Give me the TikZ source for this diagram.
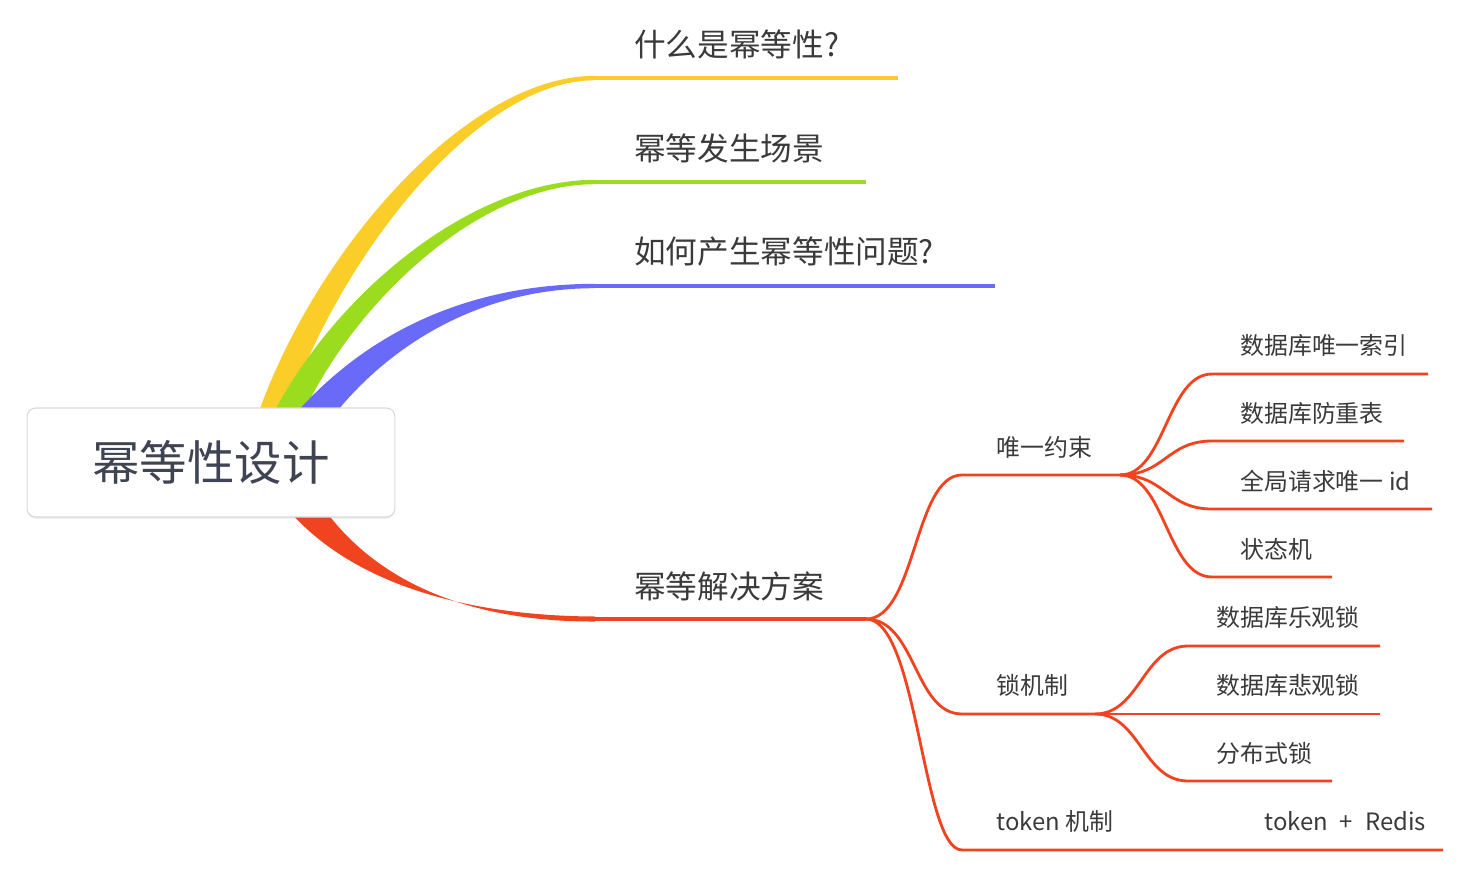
\documentclass[tikz,border=0pt]{standalone}
\usepackage{fontspec}
\setmainfont{Noto Sans CJK SC}
\usetikzlibrary{calc,shadows}
\definecolor{ink}{HTML}{3A3A3A}
\definecolor{rootink}{HTML}{3F4452}
\definecolor{cyellow}{HTML}{FACD28}
\definecolor{cgreen}{HTML}{9CDC1E}
\definecolor{cblue}{HTML}{6A6AF8}
\definecolor{cred}{HTML}{F0431F}
\tikzset{
	rootbox/.style={draw=black!15,fill=white,rounded corners=5pt,line width=0.6pt,
		minimum width=7.36cm,minimum height=2.18cm,text=rootink,
		font=\fontsize{27}{30}\selectfont,
		drop shadow={opacity=0.12,shadow xshift=0pt,shadow yshift=-1.2pt}},
	topic/.style={anchor=west,inner sep=0pt,text=ink,font=\fontsize{18}{20}\selectfont},
	sub/.style={anchor=west,inner sep=0pt,text=ink,font=\fontsize{13.6}{16}\selectfont},
	twig/.style={draw=cred,line width=1.6pt},
}

\begin{document}
\begin{tikzpicture}[x=0.02cm,y=-0.02cm]
	\useasboundingbox (0,0) rectangle (1464,876);

	% ends of the four main branches
	\coordinate (what) at (595,78);   \coordinate (what-e) at (898,78);
	\coordinate (scene) at (595,182); \coordinate (scene-e) at (866,182);
	\coordinate (how) at (595,286);   \coordinate (how-e) at (995,286);
	\coordinate (sol) at (595,619);   \coordinate (sol-e) at (866,619);

	% tapered branches, hidden under the root box at their start
	\fill[cyellow] (256,420) .. controls (312,255) and (465,76) .. ($(what)+(0,-2.2)$)
		-- ($(what)+(0,2.2)$) .. controls (475,80) and (336,262) .. (284,420) -- cycle;
	\fill[cgreen] (270,420) .. controls (332,296) and (470,180) .. ($(scene)+(0,-2.2)$)
		-- ($(scene)+(0,2.2)$) .. controls (478,184) and (352,304) .. (300,420) -- cycle;
	\fill[cblue] (290,420) .. controls (372,324) and (480,284) .. ($(how)+(0,-2.2)$)
		-- ($(how)+(0,2.2)$) .. controls (486,288) and (392,340) .. (330,420) -- cycle;
	\fill[cred] (280,500) .. controls (350,590) and (480,616) .. ($(sol)+(0,-2.5)$)
		-- ($(sol)+(0,2.5)$) .. controls (470,622) and (372,582) .. (318,500) -- cycle;
	\draw[cyellow,line width=2.4pt] (what) -- (what-e);
	\draw[cgreen,line width=2.4pt] (scene) -- (scene-e);
	\draw[cblue,line width=2.4pt] (how) -- (how-e);
	\draw[cred,line width=2.8pt] (sol) -- (sol-e);

	\node[rootbox] (root) at (211,462.5) {幂等性设计};

	\node[topic] (q-what) at (634,44) {什么是幂等性?};
	\node[topic] (q-scene) at (634,148) {幂等发生场景};
	\node[topic] (q-how) at (634,252) {如何产生幂等性问题?};
	\node[topic] (q-sol) at (634,586) {幂等解决方案};

	% second level
	\coordinate (uniq-l) at (962,475);  \coordinate (uniq-r) at (1120,475);
	\coordinate (lock-l) at (962,714);  \coordinate (lock-r) at (1095,714);
	\coordinate (token-l) at (962,850); \coordinate (token-r) at (1443,850);
	\draw[twig] (sol-e) .. controls +(50,0) and +(-48,0) .. (uniq-l) -- (uniq-r);
	\draw[twig] (sol-e) .. controls +(50,0) and +(-48,0) .. (lock-l) -- (lock-r);
	\draw[twig] (sol-e) .. controls +(52,0) and +(-40,0) .. (token-l) -- (token-r);

	\node[sub] (s-uniq) at (996,447) {唯一约束};
	\node[sub] (s-lock) at (996,685) {锁机制};
	\node[sub] (s-token) at (996,821) {token 机制};
	\node[sub] (l-redis) at (1264,821) {token\enspace+\enspace Redis};

	% leaves of the unique constraint
	\coordinate (idx-l) at (1212,374);   \coordinate (idx-r) at (1428,374);
	\coordinate (dedup-l) at (1212,441); \coordinate (dedup-r) at (1404,441);
	\coordinate (reqid-l) at (1212,509); \coordinate (reqid-r) at (1432,509);
	\coordinate (state-l) at (1212,577); \coordinate (state-r) at (1332,577);
	\draw[twig] (uniq-r) .. controls +(45,0) and +(-45,0) .. (idx-l) -- (idx-r);
	\draw[twig] (uniq-r) .. controls +(45,0) and +(-45,0) .. (dedup-l) -- (dedup-r);
	\draw[twig] (uniq-r) .. controls +(45,0) and +(-45,0) .. (reqid-l) -- (reqid-r);
	\draw[twig] (uniq-r) .. controls +(45,0) and +(-45,0) .. (state-l) -- (state-r);
	\node[sub] (l-idx) at (1240,345) {数据库唯一索引};
	\node[sub] (l-dedup) at (1240,413) {数据库防重表};
	\node[sub] (l-reqid) at (1240,481) {全局请求唯一 id};
	\node[sub] (l-state) at (1240,549) {状态机};

	% leaves of the lock
	\coordinate (opt-l) at (1188,646);  \coordinate (opt-r) at (1380,646);
	\coordinate (pes-r) at (1380,714);
	\coordinate (dist-l) at (1188,781); \coordinate (dist-r) at (1332,781);
	\draw[twig] (lock-r) .. controls +(45,0) and +(-45,0) .. (opt-l) -- (opt-r);
	\draw[twig] (lock-r) -- (pes-r);
	\draw[twig] (lock-r) .. controls +(45,0) and +(-45,0) .. (dist-l) -- (dist-r);
	\node[sub] (l-opt) at (1216,617) {数据库乐观锁};
	\node[sub] (l-pes) at (1216,685) {数据库悲观锁};
	\node[sub] (l-dist) at (1216,753) {分布式锁};
\end{tikzpicture}
\end{document}
